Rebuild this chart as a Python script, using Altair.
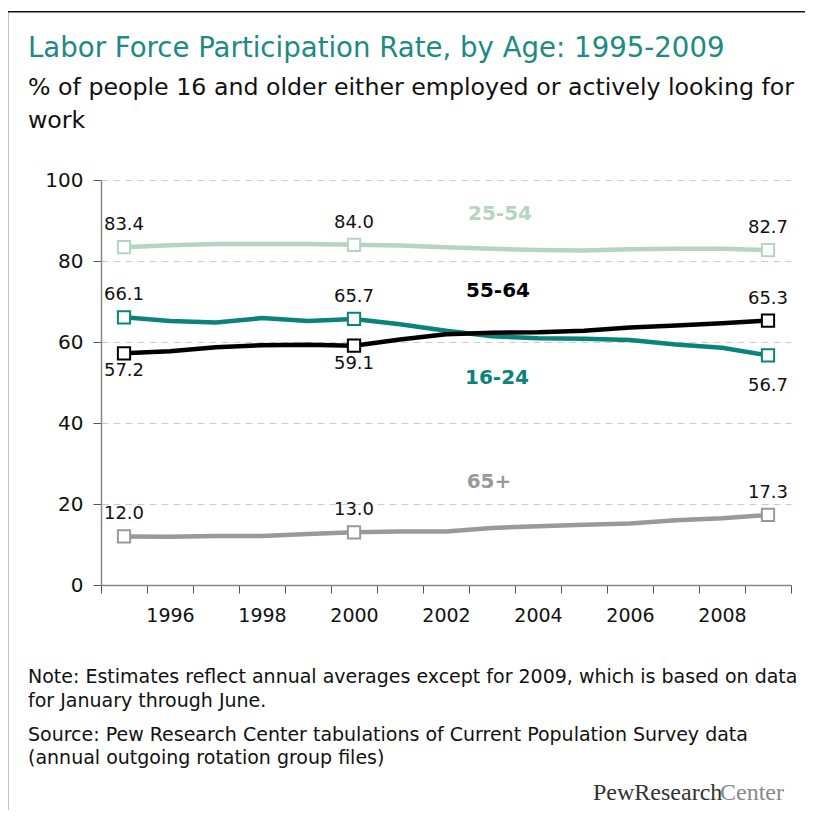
import altair as alt
import pandas as pd

years = list(range(1995, 2010))
series_names = ["25-54", "16-24", "55-64", "65+"]
series_colors = ["#b5d4c1", "#0a837c", "#000000", "#999999"]

s25_54 = [83.4, 83.9, 84.2, 84.2, 84.2, 84.0, 83.8, 83.4, 83.0, 82.7, 82.6, 82.9, 83.0, 83.0, 82.7]
s16_24 = [66.1, 65.2, 64.8, 65.9, 65.2, 65.7, 64.4, 62.8, 61.4, 60.9, 60.8, 60.5, 59.4, 58.6, 56.7]
s55_64 = [57.2, 57.7, 58.7, 59.2, 59.3, 59.1, 60.6, 61.9, 62.3, 62.4, 62.8, 63.6, 64.1, 64.6, 65.3]
s65 = [12.0, 11.9, 12.1, 12.1, 12.6, 13.0, 13.2, 13.2, 14.1, 14.5, 14.9, 15.2, 16.0, 16.5, 17.3]

marker_years = [1995, 2000, 2009]
# where each marker's value label sits relative to its marker
label_side = {
    "25-54": ["above", "above", "above"],
    "16-24": ["above", "above", "far"],
    "55-64": ["below", "below", "above"],
    "65+": ["above", "above", "above"],
}

# inline series labels: anchor year and value level (same order as series_names)
series_label_year = [2003, 2003, 2003, 2003]
series_label_level = [91.6, 51.2, 72.7, 25.5]
series_label_dx = [8, 5, 6, -3]

title_text = "Labor Force Participation Rate, by Age: 1995-2009"
subtitle_text = "% of people 16 and older either employed or actively looking for\nwork"
note_text = "Note: Estimates reflect annual averages except for 2009, which is based on data\nfor January through June."
source_text = "Source: Pew Research Center tabulations of Current Population Survey data\n(annual outgoing rotation group files)"

rows = []
for name, vals in zip(series_names, [s25_54, s16_24, s55_64, s65]):
    for yr, v in zip(years, vals):
        rows.append({"series": name, "year": yr, "value": v})
df = pd.DataFrame(rows)

mrows = []
for name, vals in zip(series_names, [s25_54, s16_24, s55_64, s65]):
    for yr, side in zip(marker_years, label_side[name]):
        mrows.append({"series": name, "year": yr, "value": vals[years.index(yr)], "side": side})
mdf = pd.DataFrame(mrows)

sl = pd.DataFrame({"series": series_names, "year": series_label_year,
                   "value": series_label_level, "dx": series_label_dx})

FONT = "DejaVu Sans"
color = alt.Color("series:N", scale=alt.Scale(domain=series_names, range=series_colors), legend=None)

x = alt.X("year:O", bandPosition=0.5,
          scale=alt.Scale(type="band", paddingInner=0, paddingOuter=0, domain=years),
          axis=alt.Axis(title=None, tickBand="extent", labelAngle=0,
                        labelExpr="datum.value % 2 == 0 ? datum.label : ''",
                        labelFont=FONT, labelFontSize=19, labelColor="#111",
                        labelPadding=13, tickSize=8, tickColor="#555",
                        domainColor="#888", domainWidth=1.5, grid=False))
y = alt.Y("value:Q", scale=alt.Scale(domain=[0, 100], nice=False),
          axis=alt.Axis(title=None, values=[0, 20, 40, 60, 80, 100],
                        labelFont=FONT, labelFontSize=20, labelColor="#111",
                        labelPadding=10, tickSize=8, tickColor="#555",
                        domainColor="#888", domainWidth=1.5,
                        grid=True, gridColor="#cccccc", gridDash=[7, 5], gridWidth=1))

base = alt.Chart(df)
lines = base.mark_line(strokeWidth=4.5).encode(x=x, y=y, color=color, detail="series:N")
markers = alt.Chart(mdf).mark_point(shape="square", filled=True, fill="white", size=150,
                                    strokeWidth=2, opacity=1).encode(
    x=alt.X("year:O", bandPosition=0.5), y="value:Q",
    stroke=alt.Stroke("series:N", scale=alt.Scale(domain=series_names, range=series_colors), legend=None))

def val_labels(side, dy):
    return alt.Chart(mdf).transform_filter(alt.datum.side == side).mark_text(
        font=FONT, fontSize=18, color="#111", dy=dy).encode(
        x=alt.X("year:O", bandPosition=0.5), y="value:Q", text=alt.Text("value:Q", format=".1f"))

labels_above = val_labels("above", -22)
labels_below = val_labels("below", 18)
labels_far = val_labels("far", 31)

series_lbls = []
for i, name in enumerate(series_names):
    series_lbls.append(
        alt.Chart(sl).transform_filter(alt.datum.series == name).mark_text(
            font=FONT, fontSize=20, fontWeight="bold", dx=series_label_dx[i]).encode(
            x=alt.X("year:O", bandPosition=0.5), y="value:Q", text="series:N", color=color))

one = pd.DataFrame({"t": [0]})
title_mark = alt.Chart(pd.DataFrame({"t": [title_text]})).mark_text(
    font=FONT, fontSize=27.6, color="#1d8a83", align="left", baseline="alphabetic").encode(
    x=alt.value(-73), y=alt.value(-123), text="t:N")
subtitle_mark = alt.Chart(pd.DataFrame({"t": [subtitle_text]})).mark_text(
    font=FONT, fontSize=23.7, color="#111", align="left", baseline="alphabetic",
    lineBreak="\n", lineHeight=33).encode(
    x=alt.value(-73), y=alt.value(-85), text="t:N")
note_mark = alt.Chart(pd.DataFrame({"t": [note_text]})).mark_text(
    font=FONT, fontSize=19, color="#111", align="left", baseline="alphabetic",
    lineBreak="\n", lineHeight=24).encode(
    x=alt.value(-73), y=alt.value(503), text="t:N")
source_mark = alt.Chart(pd.DataFrame({"t": [source_text]})).mark_text(
    font=FONT, fontSize=19, color="#111", align="left", baseline="alphabetic",
    lineBreak="\n", lineHeight=23).encode(
    x=alt.value(-73), y=alt.value(561), text="t:N")
logo1 = alt.Chart(pd.DataFrame({"t": ["PewResearch"]})).mark_text(
    font="Liberation Serif", fontSize=24, color="#333", align="left", baseline="alphabetic").encode(
    x=alt.value(492), y=alt.value(620), text="t:N")
logo2 = alt.Chart(pd.DataFrame({"t": ["Center"]})).mark_text(
    font="Liberation Serif", fontSize=24, color="#888", align="left", baseline="alphabetic").encode(
    x=alt.value(619), y=alt.value(620), text="t:N")

frame_top = alt.Chart(one).mark_rule(color="#111", strokeWidth=1.5).encode(
    x=alt.value(-93.5), x2=alt.value(720), y=alt.value(-168.3))
frame_left = alt.Chart(one).mark_rule(color="#111", strokeWidth=1.5).encode(
    x=alt.value(-93.5), y=alt.value(-168.3), y2=alt.value(650))

chart = alt.layer(
    lines, markers, labels_above, labels_below, labels_far, *series_lbls,
    title_mark, subtitle_mark, note_mark, source_mark, logo1, logo2, frame_top, frame_left
).properties(
    width=690, height=405,
    autosize=alt.AutoSizeParams(type="none"),
    padding={"left": 93, "top": 172, "right": 14, "bottom": 225},
    background="white",
).configure_view(stroke=None)

chart.save("out.html", embed_options={"renderer": "svg", "actions": False})
